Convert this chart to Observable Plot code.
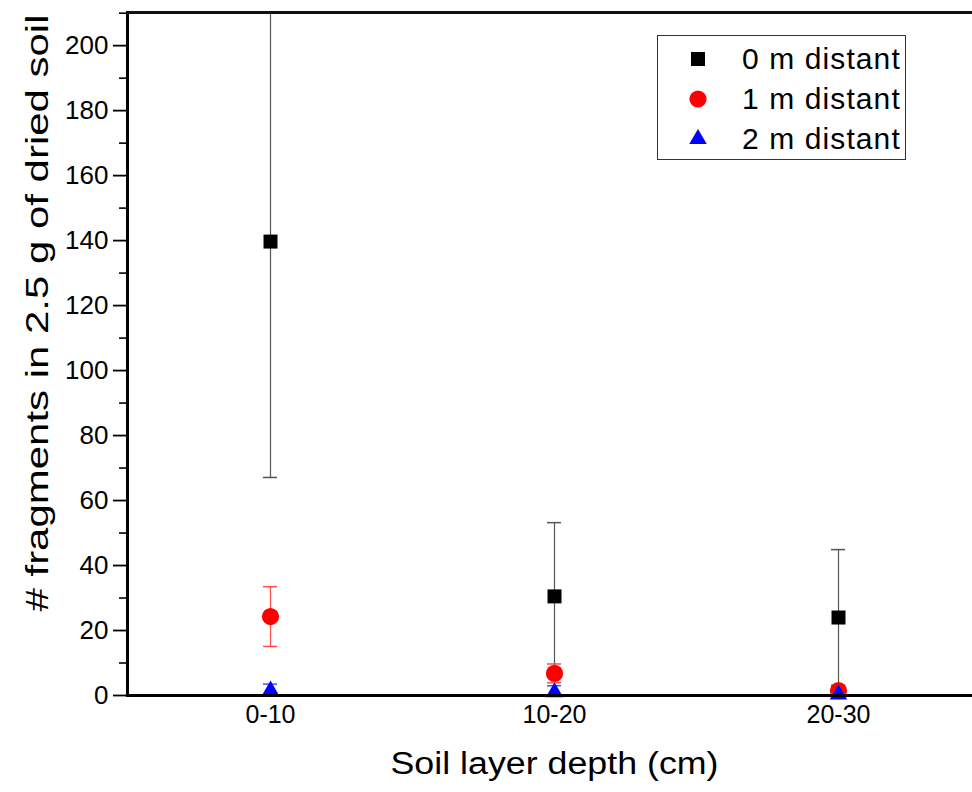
<!DOCTYPE html>
<html>
<head>
<meta charset="utf-8">
<script src="https://cdn.jsdelivr.net/npm/d3@7"></script>
<script src="https://cdn.jsdelivr.net/npm/@observablehq/plot@0.6"></script>
<style>
  body { margin: 0; background: #fff; }
  #wrap { position: relative; width: 972px; height: 792px; font-family: "Liberation Sans", Arial, sans-serif; }
  #legend { position: absolute; left: 657px; top: 35px; width: 247px; height: 123px; border: 1px solid #333; background: #fff; }
  .row { position: absolute; left: 0; height: 40px; display: flex; align-items: center; }
  .row svg { margin-left: 28px; }
  .row span { margin-left: 32px; font-size: 30px; color: #000; letter-spacing: 1.1px; white-space: nowrap; }
</style>
</head>
<body>
<div id="wrap">
  <div id="chart"></div>
  <div id="legend"></div>
</div>
<script>
const depths = ["0-10", "10-20", "20-30"];
const seriesNames = ["0 m distant", "1 m distant", "2 m distant"];
const mean0 = [139.7, 30.5, 24.0];
const sd0 = [72.6, 22.7, 20.9];
const mean1 = [24.3, 6.8, 1.5];
const sd1 = [9.2, 2.9, 0.6];
const mean2 = [1.5, 1.0, 0.3];
const sd2 = [2.0, 2.0, 0.3];
const yMajorTicks = [0, 20, 40, 60, 80, 100, 120, 140, 160, 180, 200];
const yMinorTicks = [10, 30, 50, 70, 90, 110, 130, 150, 170, 190, 210];
const yTitle = "# fragments in 2.5 g of dried soil";
const xTitle = "Soil layer depth (cm)";

const symbols = ["square", "circle", "triangle"];
const fills = ["#000000", "#ff0000", "#0000ff"];
const errColors = ["#555555", "#ff4d4d", "#4d4dff"];
const radii = [7.9, 8.6, 6.5];

const means = [mean0, mean1, mean2];
const sds = [sd0, sd1, sd2];
const rows = [];
seriesNames.forEach((s, k) => depths.forEach((d, i) => {
  rows.push({series: s, k, depth: d, mean: means[k][i], lo: means[k][i] - sds[k][i], hi: means[k][i] + sds[k][i]});
}));

const marks = [];
for (let k = 0; k < 3; k++) {
  const data = rows.filter(r => r.k === k);
  marks.push(
    Plot.ruleX(data, {x: "depth", y1: "lo", y2: "hi", stroke: errColors[k], strokeWidth: 1.2, clip: true}),
    Plot.tickY(data, {x: "depth", y: "hi", stroke: errColors[k], strokeWidth: 1.5, clip: true}),
    Plot.tickY(data, {x: "depth", y: "lo", stroke: errColors[k], strokeWidth: 1.5, clip: true}),
    Plot.dot(data, {x: "depth", y: "mean", symbol: () => symbols[k], r: radii[k], fill: fills[k], stroke: "none"})
  );
}

const chart = Plot.plot({
  width: 972,
  height: 792,
  marginLeft: 127,
  marginRight: 0,
  marginTop: 12,
  marginBottom: 97,
  style: {fontFamily: "'Liberation Sans', Arial, sans-serif", color: "#000", background: "#fff", overflow: "visible"},
  x: {type: "band", domain: depths, range: [263, 845], paddingInner: 1 - 14 / 284, paddingOuter: 0},
  y: {domain: [0, 210.2]},
  symbol: {type: "identity"},
  marks: [
    Plot.axisY(yMinorTicks, {tickSize: 8, tickFormat: () => "", label: null, strokeWidth: 1.6}),
    Plot.axisY(yMajorTicks, {tickSize: 14, tickPadding: 5, fontSize: 26, label: null, strokeWidth: 1.8}),
    Plot.axisX(depths, {tickSize: 0, tickPadding: 10, fontSize: 25, label: null}),
    ...marks,
    Plot.frame({anchor: "left", stroke: "#000", strokeWidth: 3}),
    Plot.frame({anchor: "top", stroke: "#111", strokeWidth: 3}),
    Plot.frame({anchor: "bottom", stroke: "#000", strokeWidth: 3}),
    Plot.text([yTitle], {frameAnchor: "left", rotate: -90, dx: -90, dy: 257.5, textAnchor: "start", fontSize: 32, fill: "#000", className: "ytitle"}),
    Plot.text([xTitle], {frameAnchor: "bottom", dy: 78, dx: -159.5, textAnchor: "start", fontSize: 31, fill: "#000", className: "xtitle"})
  ]
});
document.getElementById("chart").appendChild(chart);

// stretch titles to match reference extents
const yt = chart.querySelector(".ytitle text");
if (yt) { yt.setAttribute("textLength", 597); yt.setAttribute("lengthAdjust", "spacingAndGlyphs"); }
const xt = chart.querySelector(".xtitle text");
if (xt) { xt.setAttribute("textLength", 328); xt.setAttribute("lengthAdjust", "spacingAndGlyphs"); }

// legend
const legend = document.getElementById("legend");
seriesNames.forEach((s, k) => {
  const row = document.createElement("div");
  row.className = "row";
  row.style.top = (3 + k * 40) + "px";
  const svg = d3.create("svg").attr("width", 24).attr("height", 24);
  const size = Math.PI * radii[k] * radii[k];
  const sym = {square: d3.symbolSquare, circle: d3.symbolCircle, triangle: d3.symbolTriangle}[symbols[k]];
  svg.append("path").attr("transform", "translate(12,12)").attr("d", d3.symbol(sym, size)()).attr("fill", fills[k]);
  row.appendChild(svg.node());
  const span = document.createElement("span");
  span.textContent = s;
  row.appendChild(span);
  legend.appendChild(row);
});
</script>
</body>
</html>
